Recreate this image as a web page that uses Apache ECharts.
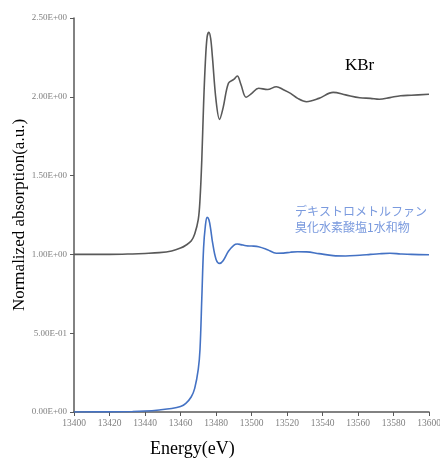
<!DOCTYPE html>
<html><head><meta charset="utf-8">
<script src="https://cdn.jsdelivr.net/npm/echarts@6/dist/echarts.min.js"></script>
<style>html,body{margin:0;padding:0;background:#fff}#c{width:440px;height:459px}</style>
</head><body><div id="c"></div>
<script>
const energy = [13400,13420,13433,13440,13448,13455,13460,13463,13466,13468,13470,13471,13472,13473,13474,13475,13476,13477,13478,13480,13482,13484,13487,13490,13492,13494,13497,13500,13504,13509,13514,13518,13522,13526,13531,13538,13546,13553,13561,13567,13572,13578,13584,13590,13600];
const kbr = [1.000,1.000,1.003,1.006,1.011,1.022,1.040,1.058,1.085,1.13,1.22,1.35,1.60,1.95,2.22,2.38,2.41,2.37,2.25,1.98,1.857,1.93,2.086,2.11,2.132,2.08,1.997,2.02,2.054,2.046,2.064,2.045,2.022,1.99,1.969,1.99,2.028,2.012,1.994,1.99,1.984,1.995,2.007,2.01,2.016];
const dex = [0,0.001,0.003,0.006,0.013,0.022,0.035,0.055,0.095,0.15,0.27,0.40,0.72,1.04,1.18,1.235,1.22,1.16,1.08,0.97,0.943,0.96,1.02,1.058,1.066,1.062,1.055,1.053,1.049,1.03,1.007,1.008,1.014,1.017,1.016,1.005,0.992,0.99,0.995,1.0,1.004,1.007,1.003,1.0,0.998];
const seriesNames = ['KBr', 'デキストロメトルファン\n臭化水素酸塩1水和物'];
const xTitle = 'Energy(eV)';
const yTitle = 'Normalized absorption(a.u.)';

function fmtE(v){
  if (v === 0) return '0.00E+00';
  let e = Math.floor(Math.log10(Math.abs(v)) + 1e-9);
  let m = v / Math.pow(10, e);
  let s = e < 0 ? '-' : '+';
  let ae = Math.abs(e);
  return m.toFixed(2) + 'E' + s + (ae < 10 ? '0' + ae : ae);
}

const chart = echarts.init(document.getElementById('c'), null, {renderer:'canvas'});
const serif = '"Liberation Serif","Times New Roman",serif';
chart.setOption({
  animation:false,
  backgroundColor:'#fff',
  grid:{left:74,right:11,top:18,bottom:47,containLabel:false,outerBoundsMode:'none'},
  xAxis:{type:'value',min:13400,max:13600,interval:20,
    axisLine:{show:true,lineStyle:{color:'#595959',width:1.5}},
    axisTick:{show:true,length:4,lineStyle:{color:'#595959'}},
    splitLine:{show:false},
    axisLabel:{color:'#808080',fontFamily:serif,fontSize:9.5,margin:6,formatter:v=>String(v),hideOverlap:false}
  },
  yAxis:{type:'value',min:0,max:2.5,interval:0.5,
    name:yTitle,nameLocation:'middle',nameGap:46,nameMoveOverlap:false,
    nameTextStyle:{color:'#000',fontFamily:serif,fontSize:17},
    axisLine:{show:true,lineStyle:{color:'#595959',width:1.5}},
    axisTick:{show:true,length:4,lineStyle:{color:'#595959'}},
    splitLine:{show:false},
    axisLabel:{color:'#808080',fontFamily:serif,fontSize:9,margin:7,formatter:fmtE}
  },
  series:[
    {name:seriesNames[0],type:'line',smooth:0.35,showSymbol:false,
     data:energy.map((e,i)=>[e,kbr[i]]),lineStyle:{color:'#595959',width:1.6}},
    {name:seriesNames[1],type:'line',smooth:0.35,showSymbol:false,
     data:energy.map((e,i)=>[e,dex[i]]),lineStyle:{color:'#4472C4',width:1.6}}
  ],
  graphic:[
    {type:'text',left:345,top:57,style:{text:seriesNames[0],fill:'#000',font:'17px '+serif}},
    {type:'text',left:295,top:204,style:{text:seriesNames[1],fill:'#7a9ade',font:'12px "Noto Sans CJK JP"',lineHeight:15.5}},
    {type:'text',left:150,top:440,style:{text:xTitle,fill:'#000',font:'18px '+serif}}
  ]
});
</script></body></html>
